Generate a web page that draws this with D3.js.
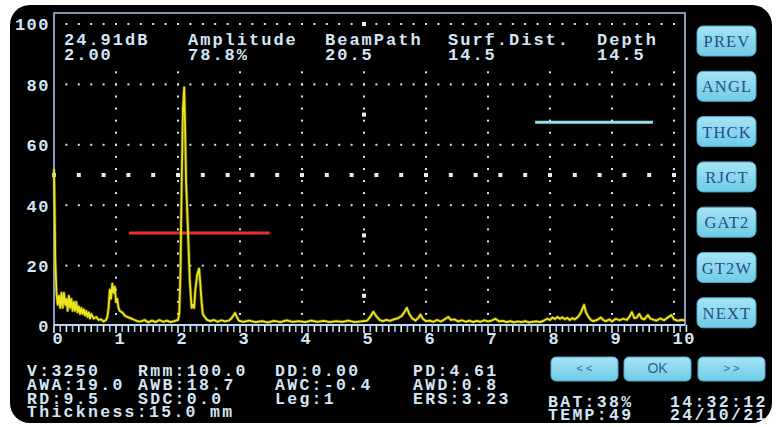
<!DOCTYPE html>
<html><head><meta charset="utf-8">
<script src="https://cdn.jsdelivr.net/npm/d3@7"></script>
<style>body{margin:0;background:#fff}svg{display:block}</style>
</head><body><svg id="c" width="782" height="427"></svg>
<script>
// ---------- data ----------
const waveX = [0.00,0.01,0.02,0.04,0.06,0.08,0.10,0.12,0.14,0.16,0.18,0.20,0.22,0.24,0.26,0.28,0.30,0.32,0.34,0.36,0.38,0.40,0.42,0.44,0.46,0.48,0.50,0.52,0.54,0.56,0.58,0.60,0.64,0.68,0.72,0.76,0.80,0.84,
  0.86,0.88,0.90,0.92,0.94,0.96,0.98,1.00,1.02,1.04,1.06,1.10,1.14,1.18,1.24,1.30,1.36,
  1.40,1.46,1.52,1.58,1.64,1.70,1.76,1.82,1.88,1.94,2.00,
  2.02,2.04,2.06,2.08,2.10,2.11,2.13,2.16,2.19,2.22,2.24,2.26,2.28,2.31,2.34,2.36,2.38,2.40,2.43,2.47,
  2.52,2.58,2.64,2.70,2.76,2.82,2.86,2.89,2.92,2.95,2.98,
  3.05,3.15,3.25,3.35,3.45,3.55,3.65,3.75,3.85,3.95,4.05,4.15,4.25,4.35,4.45,4.55,4.65,4.75,4.85,4.95,
  5.05,5.10,5.15,5.20,5.25,5.30,5.36,5.42,5.48,5.54,5.60,5.65,5.69,5.73,5.78,5.83,5.88,5.91,5.95,
  6.00,6.06,6.12,6.18,6.24,6.30,6.36,6.40,6.46,6.52,6.58,6.64,6.70,6.76,6.82,6.88,6.94,
  7.00,7.06,7.12,7.18,7.24,7.30,7.36,7.42,7.48,7.54,7.60,7.66,7.72,7.78,7.84,7.90,7.96,
  8.00,8.04,8.08,8.12,8.16,8.20,8.24,8.28,8.32,8.36,8.40,8.45,8.50,8.55,8.58,8.62,8.66,8.70,8.76,8.82,8.86,8.90,8.96,
  9.00,9.06,9.12,9.18,9.24,9.28,9.32,9.36,9.40,9.44,9.48,9.52,9.58,9.62,9.68,9.72,9.78,9.84,9.90,9.96,
  10.00,10.06,10.12,10.17];
const waveY = [52,40,22,11,7,10,6,11,6,11,7,9,5,10,6,9,5,8,5,8,4.5,6.5,4,6,4,5.5,3.5,5,3,4.5,2.5,4,2.5,3,2,2.2,1.5,2,
  3,6,12,9,14,11,13,8,9,6,5,4.5,3.5,3,2.5,2,1.5,
  1.5,2,1.2,1.8,1.3,2,1.4,1.8,1.3,1.6,2,
  4,18,48,72,79,70,48,32,15,6,7,6,12,17,19,14,8,4,3,2,
  1.6,2,1.4,1.9,1.5,1.8,2.5,3.4,4.3,3,1.8,
  1.4,1.8,1.3,1.6,1.2,1.7,1.3,1.9,1.4,1.6,1.3,1.8,1.4,1.7,1.3,1.6,1.4,1.8,1.3,1.5,
  1.8,3,4.7,3.2,2,1.6,2,1.7,2.2,2.5,3.2,4.5,6,4,2.5,1.8,2.8,3.8,2.4,
  1.6,1.8,1.4,2,1.5,2.2,3,2,2.2,1.5,1.9,1.4,1.8,1.3,1.7,1.4,1.9,
  1.5,1.8,2.4,1.5,1.7,1.3,1.6,1.2,1.5,1.3,1.6,1.2,1.4,1.5,1.3,1.8,2.4,
  2,2.8,2.3,3,2.4,2.9,2.2,2.7,2,2.6,2.2,3,4.5,7,4.5,3,2,1.6,2,2.8,2,1.6,2.2,
  1.5,2.4,1.9,2.4,2,3,4.6,2.6,2.8,4,2.5,2.2,3.6,2.4,2,1.8,2.5,1.9,2.8,3.6,
  2.2,1.8,2,1.9];
const yTicks = [0,20,40,60,80,100];
const xTicks = [0,1,2,3,4,5,6,7,8,9,10];
const gateA = [1.21, 3.48, 30.8];   // start, end, level (red)
const gateB = [7.76, 9.66, 67.5];   // start, end, level (cyan)
const headerLabels = ["24.91dB","Amplitude","BeamPath","Surf.Dist.","Depth"];
const headerValues = ["2.00","78.8%","20.5","14.5","14.5"];
const sideButtons = ["PREV","ANGL","THCK","RJCT","GAT2","GT2W","NEXT"];
const bottomButtons = ["< <","OK","> >"];
const infoCol1 = ["V:3250","AWA:19.0","RD:9.5","Thickness:15.0 mm"];
const infoCol2 = ["Rmm:100.0","AWB:18.7","SDC:0.0"];
const infoCol3 = ["DD:0.00","AWC:-0.4","Leg:1"];
const infoCol4 = ["PD:4.61","AWD:0.8","ERS:3.23"];
const statusLines = ["BAT:38%","TEMP:49"];
const clockLines = ["14:32:12","24/10/21"];

// ---------- layout ----------
const svg = d3.select("#c");
const x = d3.scaleLinear().domain([0,10]).range([54,674]);
const y = d3.scaleLinear().domain([0,100]).range([326,24]);
const frame = {l:54, t:13, r:685, b:325};
const txt = "#d3e6f7";
const mono = "'Liberation Mono','DejaVu Sans Mono',monospace";

const defs = svg.append("defs");
const g1 = defs.append("linearGradient").attr("id","btn").attr("x1",0).attr("y1",0).attr("x2",0).attr("y2",1);
g1.append("stop").attr("offset","0%").attr("stop-color","#a5e4f5");
g1.append("stop").attr("offset","100%").attr("stop-color","#6fcbe6");

// panel
svg.append("rect").attr("x",10).attr("y",5).attr("width",762).attr("height",418).attr("rx",20).attr("fill","#000");

// dotted grid
const grid = svg.append("g");
const hRows = [20,40,60,80,100];
const dotXs = d3.range(1,51).map(i => i*0.2);
hRows.forEach(v => {
  grid.selectAll(null).data(dotXs).enter().append("rect")
    .attr("x", d => x(d)-1).attr("y", y(v)-1).attr("width",2).attr("height",2).attr("fill","#dde4f4");
});
const dotYs = d3.range(1,25).map(i => i*4);
d3.range(1,11).forEach(c => {
  grid.selectAll(null).data(dotYs).enter().append("rect")
    .attr("x", x(c)-1).attr("y", d => y(d)-1).attr("width",2).attr("height",2).attr("fill","#dde4f4");
});
// 50% reference row (bigger dots)
const bigXs = d3.range(0,26).map(i => i*0.4);
grid.selectAll(null).data(bigXs).enter().append("rect")
  .attr("x", d => x(d)-2).attr("y", y(50)-2).attr("width",4).attr("height",4).attr("fill","#e6ecf8");
// marks on column 5
grid.selectAll(null).data([100,70,30,10]).enter().append("rect")
  .attr("x", x(5)-2).attr("y", d => y(d)-2).attr("width",4).attr("height",4).attr("fill","#e6ecf8");

// header blank area
svg.append("rect").attr("x",frame.l+1).attr("y",28).attr("width",frame.r-frame.l-2).attr("height",38).attr("fill","#000");

// frame
svg.append("path").attr("d",`M${frame.l},${frame.b}V${frame.t}H${frame.r}V${frame.b}`)
  .attr("fill","none").attr("stroke","#a9c3ec").attr("stroke-width",1.6);

// x axis baseline and ticks
const minor = d3.range(0,103).map(i => i*0.1);
svg.append("g").selectAll("line").data(minor).enter().append("line")
  .attr("x1", d => x(d)).attr("x2", d => x(d))
  .attr("y1", frame.b).attr("y2", (d,i) => frame.b + (i%10===0 ? 8 : 7))
  .attr("stroke", (d,i) => i%2 ? "#9fc6ea" : "#e8f2fb").attr("stroke-width",1.6);
svg.append("line").attr("x1",frame.l).attr("x2",frame.r).attr("y1",frame.b).attr("y2",frame.b)
  .attr("stroke","#bcd6f2").attr("stroke-width",2.2);

// axes labels via d3 axes
const ya = svg.append("g").attr("transform","translate(50,0)")
  .call(d3.axisLeft(y).tickValues(yTicks).tickSize(0).tickPadding(0));
ya.select(".domain").remove();
ya.selectAll("text").attr("fill",txt).attr("font-family",mono).attr("font-weight","bold")
  .attr("font-size",17).attr("letter-spacing",1.5).attr("dy","0.35em");

const xa = svg.append("g").attr("transform","translate(0,328)")
  .call(d3.axisBottom(x).tickValues(xTicks).tickFormat(d3.format("d")).tickSize(0).tickPadding(0));
xa.select(".domain").remove();
xa.selectAll("text").attr("fill",txt).attr("font-family",mono).attr("font-weight","bold")
  .attr("font-size",17).attr("letter-spacing",1.5).attr("text-anchor","start").attr("dx",-2).attr("dy","0.95em");

// header text
const headX = [64,188,325,448,597];
const hdr = svg.append("g").attr("font-family",mono).attr("font-weight","bold").attr("font-size",17).attr("fill",txt).attr("letter-spacing",2);
headerLabels.forEach((t,i) => hdr.append("text").attr("x",headX[i]).attr("y",45).text(t));
headerValues.forEach((t,i) => hdr.append("text").attr("x",headX[i]).attr("y",60).text(t));

// gates
svg.append("line").attr("x1",x(gateA[0])).attr("x2",x(gateA[1])).attr("y1",y(gateA[2])).attr("y2",y(gateA[2]))
  .attr("stroke","#e8332c").attr("stroke-width",3);
svg.append("line").attr("x1",x(gateB[0])).attr("x2",x(gateB[1])).attr("y1",y(gateB[2])).attr("y2",y(gateB[2]))
  .attr("stroke","#93dfe6").attr("stroke-width",3);

// waveform
const line = d3.line().x(i => x(waveX[i])).y(i => y(waveY[i]));
const idx = d3.range(waveX.length);
svg.append("path").attr("d",line(idx)).attr("fill","none").attr("stroke","#a8a000").attr("stroke-width",3.4).attr("stroke-opacity",0.45).attr("stroke-linejoin","round");
svg.append("path").attr("d",line(idx)).attr("fill","none").attr("stroke","#ece51f").attr("stroke-width",1.8).attr("stroke-linejoin","round");

// side buttons
const sb = svg.append("g");
sideButtons.forEach((t,i) => {
  const yy = 26 + i*45.3;
  sb.append("rect").attr("x",697).attr("y",yy).attr("width",59).attr("height",30).attr("rx",6)
    .attr("fill","url(#btn)").attr("stroke","#4fa9cc").attr("stroke-width",1);
  sb.append("text").attr("x",727).attr("y",yy+21).attr("text-anchor","middle")
    .attr("font-family","'Liberation Serif','DejaVu Serif',serif").attr("font-size",16.5)
    .attr("fill","#2a4a8a").attr("letter-spacing",1.2).text(t);
});

// bottom buttons
const bbX = [551,624,698];
bottomButtons.forEach((t,i) => {
  svg.append("rect").attr("x",bbX[i]).attr("y",357).attr("width",67).attr("height",24).attr("rx",5)
    .attr("fill","url(#btn)").attr("stroke","#4fa9cc").attr("stroke-width",1);
  svg.append("text").attr("x",bbX[i]+33.5).attr("y",i===1?373:372).attr("text-anchor","middle")
    .attr("font-family","'Liberation Sans','DejaVu Sans',sans-serif").attr("font-size", i===1?14:11)
    .attr("fill","#2f5f95").text(t);
});

// info text
const info = svg.append("g").attr("font-family",mono).attr("font-weight","bold").attr("font-size",16.5)
  .attr("fill",txt).attr("letter-spacing",2.3);
const rowsY = [376,390,404,417];
[[infoCol1,27],[infoCol2,138],[infoCol3,275],[infoCol4,413]].forEach(([col,cx]) => {
  col.forEach((t,i) => info.append("text").attr("x",cx).attr("y",rowsY[i]).attr("xml:space","preserve").text(t));
});
statusLines.forEach((t,i) => info.append("text").attr("x",548).attr("y",407+i*13).text(t));
clockLines.forEach((t,i) => info.append("text").attr("x",670).attr("y",407+i*13).text(t));
</script></body></html>
